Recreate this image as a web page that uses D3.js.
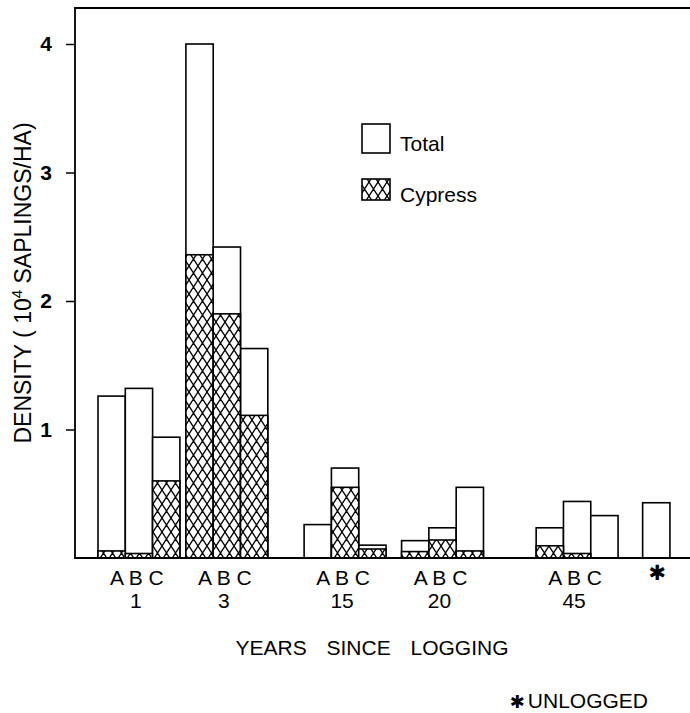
<!DOCTYPE html>
<html>
 <head>
  <title>Sapling density</title>
  <style>
  body { margin: 0; background: white; }
  svg { font-family: "Liberation Sans", Arial, sans-serif; }
  </style>
  <script src="https://cdnjs.cloudflare.com/ajax/libs/d3/7.8.3/d3.min.js"></script>
 </head>
 <body>
  <script>
   // data (10^4 saplings / ha)
   const years = ["1", "3", "15", "20", "45", "✱"];
   const sites = ["A", "B", "C"];
   const total = [[1.26, 1.32, 0.94], [4.0, 2.42, 1.63], [0.26, 0.70, 0.10],
                  [0.135, 0.235, 0.55], [0.235, 0.44, 0.33], [0.43]];
   const cypress = [[0.055, 0.035, 0.60], [2.36, 1.90, 1.11], [0, 0.55, 0.07],
                    [0.05, 0.14, 0.055], [0.095, 0.035, 0], [0]];
   const yTicks = [1, 2, 3, 4];

   // layout: start of each group, in bar-width units
   const groupStart = [0, 3.22, 7.55, 11.12, 16.05, 19.95];

   const w = 690, h = 713;
   const padL = 75, padT = 8, base = 558;
   const barW = 27.3;

   const svg = d3.select("body").append("svg")
                 .attr("width", w).attr("height", h);

   const defs = svg.append("defs");
   const pat = defs.append("pattern")
                   .attr("id", "hatch")
                   .attr("patternUnits", "userSpaceOnUse")
                   .attr("width", 9).attr("height", 14);
   pat.append("rect").attr("width", 9).attr("height", 14).attr("fill", "white");
   pat.append("path")
      .attr("d", "M0,0L9,14M9,0L0,14M-4.5,7L0,14M4.5,-7L9,0M4.5,21L9,14M13.5,7L9,0")
      .attr("stroke", "black").attr("stroke-width", 1.3).attr("fill", "none");

   const xScale = d3.scaleLinear()
                    .domain([0, 1])
                    .range([98, 98 + barW]);
   const yScale = d3.scaleLinear()
                    .domain([0, 4])
                    .range([base, 44]);

   const bars = [];
   total.forEach((g, gi) => {
    g.forEach((v, si) => {
     bars.push({g: gi, s: si, total: v, cypress: cypress[gi][si]});
    });
   });

   const bx = d => xScale(groupStart[d.g] + d.s);

   svg.selectAll("rect.total")
      .data(bars)
      .enter()
      .append("rect")
      .attr("class", "total")
      .attr("x", bx)
      .attr("y", d => yScale(d.total))
      .attr("width", barW)
      .attr("height", d => base - yScale(d.total))
      .attr("fill", "white")
      .attr("stroke", "black")
      .attr("stroke-width", 1.6);

   svg.selectAll("rect.cyp")
      .data(bars.filter(d => d.cypress > 0))
      .enter()
      .append("rect")
      .attr("class", "cyp")
      .attr("x", bx)
      .attr("y", d => yScale(d.cypress))
      .attr("width", barW)
      .attr("height", d => base - yScale(d.cypress))
      .attr("fill", "url(#hatch)")
      .attr("stroke", "black")
      .attr("stroke-width", 1.6);

   // frame: left, top and bottom lines
   svg.append("path")
      .attr("d", `M${w},${padT}H${padL}V${base}H${w}`)
      .attr("fill", "none")
      .attr("stroke", "black")
      .attr("stroke-width", 1.8);

   const yAxis = d3.axisLeft(yScale)
                   .tickValues(yTicks)
                   .tickSize(9)
                   .tickPadding(14)
                   .tickFormat(d3.format("d"));
   const ya = svg.append("g")
                 .attr("transform", "translate(" + padL + ",0)")
                 .call(yAxis);
   ya.select(".domain").remove();
   ya.selectAll("line").attr("stroke-width", 1.5);
   ya.selectAll("text")
     .style("font-family", "Liberation Sans, Arial, sans-serif")
     .attr("font-size", 21)
     .attr("font-weight", "bold")
     .attr("fill", "black");

   // group labels
   const groupCenter = (gi) => {
    const n = total[gi].length;
    return (xScale(groupStart[gi]) + xScale(groupStart[gi] + n)) / 2;
   };
   years.forEach((y, gi) => {
    if (total[gi].length > 1) {
     svg.append("text")
        .attr("x", groupCenter(gi) - 2)
        .attr("y", 585)
        .attr("text-anchor", "middle")
        .attr("font-size", 21)
        .text(sites.join(" "));
     svg.append("text")
        .attr("x", groupCenter(gi) - 3)
        .attr("y", 608)
        .attr("text-anchor", "middle")
        .attr("font-size", 21)
        .text(y);
    } else {
     svg.append("text")
        .attr("x", groupCenter(gi) + 1)
        .attr("y", 580)
        .attr("text-anchor", "middle")
        .attr("font-family", "DejaVu Sans")
        .attr("font-size", 21)
        .text(y);
    }
   });

   svg.append("text")
      .attr("x", 372)
      .attr("y", 655)
      .attr("text-anchor", "middle")
      .attr("font-size", 21)
      .attr("word-spacing", 14)
      .text("YEARS SINCE LOGGING");

   const foot = svg.append("text")
                   .attr("x", 648)
                   .attr("y", 708)
                   .attr("text-anchor", "end")
                   .attr("font-size", 21);
   foot.append("tspan").attr("font-family", "DejaVu Sans").attr("font-size", 18).text("✱");
   foot.append("tspan").attr("dx", 3).text("UNLOGGED");

   const ylab = svg.append("text")
                   .attr("transform", "translate(31,283) rotate(-90)")
                   .attr("text-anchor", "middle")
                   .attr("font-size", 23);
   ylab.append("tspan").text("DENSITY ( 10");
   ylab.append("tspan").attr("dy", -9).attr("font-size", 15).text("4");
   ylab.append("tspan").attr("dy", 9).text(" SAPLINGS/HA)");

   // legend
   const leg = [["Total", "white"], ["Cypress", "url(#hatch)"]];
   const legend = svg.append("g");
   legend.selectAll("rect")
         .data(leg)
         .enter()
         .append("rect")
         .attr("x", 362)
         .attr("y", (d, i) => i ? 179 : 124)
         .attr("width", 28)
         .attr("height", (d, i) => i ? 21 : 29)
         .attr("fill", d => d[1])
         .attr("stroke", "black")
         .attr("stroke-width", 1.6);
   legend.selectAll("text")
          .data(leg)
          .enter()
          .append("text")
          .attr("x", 400)
          .attr("y", (d, i) => i ? 202 : 151)
          .attr("font-size", 21)
          .text(d => d[0]);
  </script>
 </body>
</html>
